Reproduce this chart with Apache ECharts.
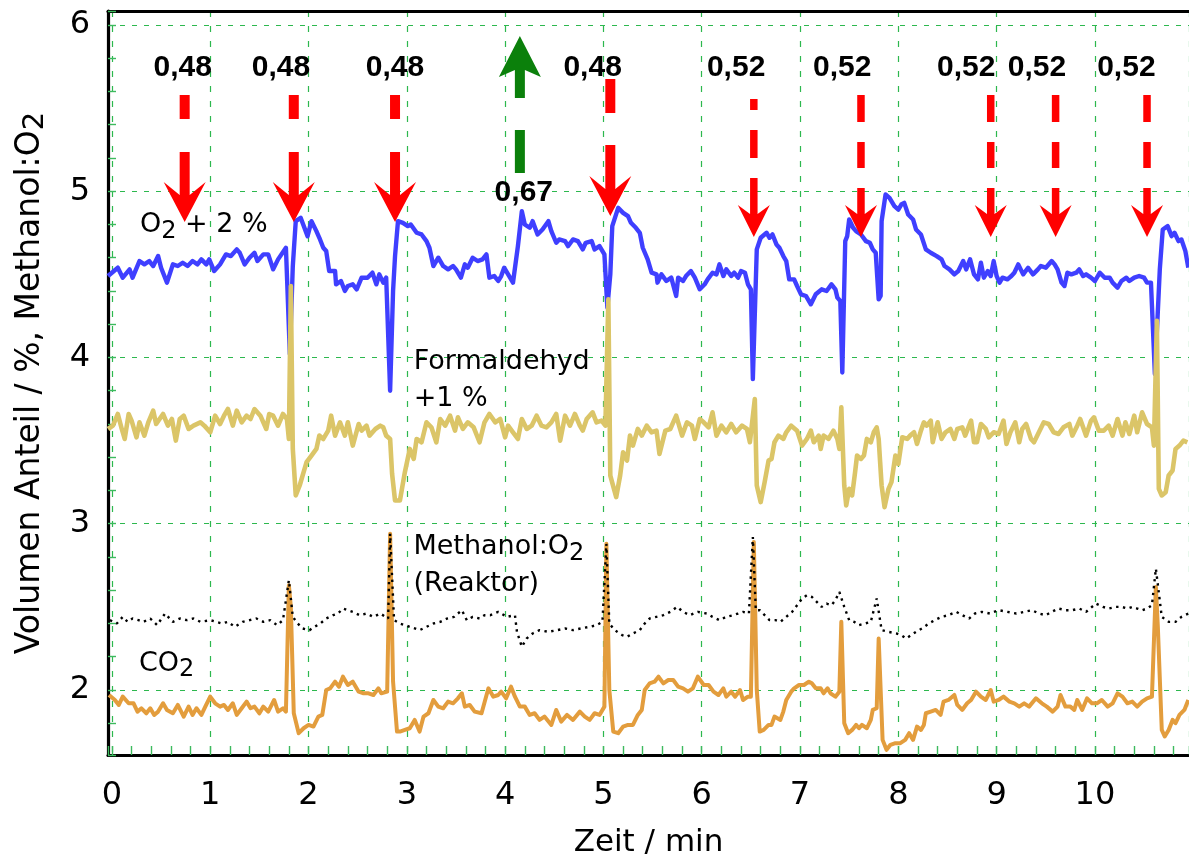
<!DOCTYPE html>
<html>
<head>
<meta charset="utf-8">
<script src="https://cdn.jsdelivr.net/npm/echarts@6/dist/echarts.min.js"></script>
<style>
  html, body { margin: 0; padding: 0; background: #fff; }
  #chart { width: 1189px; height: 856px; }
</style>
</head>
<body>
<div id="chart"></div>
<script>
// Time in min, volume fraction in % (O2 shifted by +2 %, formaldehyde by +1 %)
const o2Trace = [
  [-0.04,4.49],[0.06,4.54],[0.11,4.48],[0.18,4.53],[0.21,4.48],[0.28,4.58],[0.33,4.56],[0.38,4.58],[0.42,4.55],[0.47,4.61],
  [0.50,4.54],[0.56,4.45],[0.62,4.56],[0.67,4.55],[0.72,4.57],[0.77,4.55],[0.82,4.58],[0.87,4.56],[0.91,4.59],[0.96,4.56],
  [0.99,4.59],[1.04,4.52],[1.10,4.56],[1.16,4.62],[1.21,4.61],[1.27,4.65],[1.30,4.63],[1.35,4.56],[1.40,4.60],[1.45,4.63],
  [1.48,4.58],[1.54,4.62],[1.59,4.62],[1.64,4.53],[1.69,4.59],[1.77,4.66],[1.79,4.65],[1.81,4.02],[1.84,4.55],[1.87,4.82],
  [1.92,4.84],[1.99,4.73],[2.03,4.82],[2.08,4.76],[2.11,4.72],[2.15,4.66],[2.18,4.64],[2.21,4.52],[2.27,4.52],[2.28,4.44],
  [2.33,4.46],[2.37,4.40],[2.40,4.43],[2.45,4.44],[2.49,4.41],[2.54,4.48],[2.60,4.48],[2.65,4.51],[2.69,4.44],[2.72,4.50],
  [2.76,4.45],[2.79,4.48],[2.81,4.47],[2.83,3.80],[2.86,4.40],[2.88,4.61],[2.91,4.82],[2.96,4.81],[3.01,4.79],[3.04,4.80],
  [3.10,4.75],[3.15,4.74],[3.20,4.70],[3.23,4.66],[3.27,4.55],[3.32,4.60],[3.37,4.55],[3.42,4.53],[3.47,4.55],[3.50,4.53],
  [3.55,4.48],[3.59,4.56],[3.62,4.54],[3.67,4.60],[3.72,4.58],[3.77,4.59],[3.81,4.62],[3.84,4.48],[3.89,4.49],[3.93,4.46],
  [3.96,4.49],[3.99,4.54],[4.05,4.48],[4.08,4.45],[4.13,4.67],[4.17,4.88],[4.20,4.80],[4.25,4.78],[4.28,4.82],[4.33,4.74],
  [4.38,4.77],[4.44,4.82],[4.47,4.76],[4.52,4.69],[4.55,4.71],[4.61,4.70],[4.64,4.67],[4.69,4.71],[4.74,4.70],[4.79,4.65],
  [4.82,4.69],[4.88,4.70],[4.91,4.65],[4.96,4.67],[5.01,4.62],[5.04,4.30],[5.07,4.50],[5.09,4.79],[5.15,4.90],[5.20,4.87],
  [5.25,4.85],[5.28,4.81],[5.33,4.78],[5.37,4.75],[5.40,4.66],[5.45,4.59],[5.49,4.51],[5.54,4.50],[5.55,4.45],[5.59,4.50],
  [5.64,4.46],[5.69,4.48],[5.74,4.37],[5.76,4.48],[5.81,4.46],[5.84,4.49],[5.89,4.52],[5.93,4.48],[5.98,4.41],[6.03,4.44],
  [6.06,4.47],[6.11,4.51],[6.15,4.50],[6.18,4.56],[6.22,4.49],[6.25,4.53],[6.30,4.49],[6.33,4.51],[6.37,4.48],[6.40,4.52],
  [6.44,4.51],[6.47,4.44],[6.50,4.41],[6.52,3.87],[6.56,4.65],[6.60,4.72],[6.66,4.75],[6.69,4.72],[6.72,4.74],[6.76,4.68],
  [6.79,4.66],[6.83,4.61],[6.86,4.58],[6.89,4.47],[6.94,4.47],[6.97,4.43],[7.01,4.38],[7.06,4.37],[7.11,4.32],[7.16,4.38],
  [7.22,4.41],[7.27,4.40],[7.32,4.44],[7.36,4.41],[7.38,4.36],[7.41,4.34],[7.43,3.91],[7.46,4.70],[7.48,4.73],[7.50,4.83],
  [7.54,4.78],[7.57,4.76],[7.62,4.74],[7.67,4.70],[7.71,4.69],[7.74,4.65],[7.77,4.63],[7.80,4.35],[7.82,4.37],[7.83,4.82],
  [7.87,4.98],[7.91,4.96],[7.96,4.91],[8.00,4.89],[8.03,4.92],[8.06,4.93],[8.10,4.86],[8.15,4.83],[8.18,4.77],[8.23,4.74],
  [8.28,4.65],[8.33,4.63],[8.39,4.61],[8.44,4.59],[8.47,4.55],[8.52,4.53],[8.57,4.50],[8.61,4.52],[8.66,4.58],[8.69,4.53],
  [8.73,4.59],[8.77,4.50],[8.81,4.47],[8.84,4.57],[8.87,4.48],[8.91,4.52],[8.94,4.49],[8.97,4.58],[9.00,4.49],[9.03,4.45],
  [9.06,4.48],[9.11,4.47],[9.15,4.49],[9.18,4.51],[9.22,4.56],[9.27,4.50],[9.32,4.54],[9.37,4.50],[9.42,4.53],[9.45,4.55],
  [9.50,4.54],[9.56,4.58],[9.59,4.56],[9.62,4.53],[9.66,4.45],[9.69,4.43],[9.72,4.51],[9.76,4.50],[9.81,4.51],[9.84,4.53],
  [9.88,4.49],[9.91,4.50],[9.96,4.48],[10.00,4.46],[10.05,4.51],[10.10,4.48],[10.15,4.48],[10.18,4.45],[10.23,4.42],[10.27,4.46],
  [10.32,4.48],[10.35,4.46],[10.40,4.48],[10.45,4.49],[10.50,4.48],[10.53,4.45],[10.57,4.45],[10.61,3.90],[10.66,4.53],[10.69,4.77],
  [10.74,4.79],[10.78,4.73],[10.81,4.75],[10.85,4.70],[10.88,4.71],[10.92,4.64],[10.95,4.54]
];

const formaldehydTrace = [
  [-0.04,3.57],[0.01,3.59],[0.06,3.66],[0.10,3.57],[0.13,3.51],[0.17,3.66],[0.20,3.62],[0.25,3.52],[0.28,3.61],[0.33,3.53],
  [0.37,3.61],[0.42,3.68],[0.45,3.60],[0.52,3.66],[0.57,3.59],[0.61,3.63],[0.65,3.50],[0.69,3.63],[0.73,3.65],[0.78,3.57],
  [0.83,3.59],[0.90,3.61],[0.94,3.59],[1.00,3.55],[1.05,3.65],[1.10,3.60],[1.14,3.65],[1.18,3.69],[1.23,3.59],[1.27,3.68],
  [1.32,3.61],[1.37,3.65],[1.41,3.63],[1.45,3.69],[1.51,3.65],[1.57,3.57],[1.60,3.66],[1.64,3.65],[1.69,3.59],[1.74,3.66],
  [1.78,3.63],[1.80,3.51],[1.82,4.43],[1.84,3.45],[1.87,3.17],[1.91,3.23],[1.95,3.31],[1.98,3.37],[2.03,3.41],[2.08,3.45],
  [2.11,3.53],[2.15,3.51],[2.20,3.56],[2.23,3.65],[2.27,3.53],[2.32,3.61],[2.37,3.53],[2.40,3.61],[2.45,3.47],[2.51,3.60],
  [2.54,3.56],[2.59,3.59],[2.62,3.53],[2.68,3.57],[2.73,3.59],[2.76,3.58],[2.79,3.53],[2.83,3.51],[2.85,3.30],[2.88,3.14],
  [2.93,3.14],[2.98,3.31],[3.03,3.45],[3.07,3.39],[3.10,3.51],[3.15,3.49],[3.20,3.61],[3.25,3.58],[3.30,3.49],[3.34,3.63],
  [3.39,3.59],[3.44,3.65],[3.49,3.56],[3.52,3.64],[3.57,3.57],[3.62,3.61],[3.68,3.58],[3.74,3.49],[3.79,3.61],[3.84,3.66],
  [3.90,3.61],[3.95,3.63],[4.00,3.52],[4.03,3.59],[4.08,3.55],[4.13,3.51],[4.17,3.63],[4.22,3.57],[4.27,3.59],[4.32,3.65],
  [4.37,3.59],[4.42,3.58],[4.47,3.61],[4.52,3.66],[4.56,3.50],[4.61,3.65],[4.66,3.59],[4.71,3.66],[4.76,3.59],[4.79,3.56],
  [4.83,3.63],[4.89,3.67],[4.93,3.61],[4.98,3.62],[5.02,3.59],[5.05,4.35],[5.07,3.29],[5.13,3.16],[5.17,3.29],[5.20,3.43],
  [5.24,3.38],[5.27,3.53],[5.30,3.47],[5.35,3.57],[5.39,3.53],[5.44,3.59],[5.49,3.55],[5.54,3.56],[5.57,3.42],[5.63,3.56],
  [5.68,3.57],[5.74,3.65],[5.80,3.53],[5.85,3.61],[5.90,3.59],[5.93,3.51],[5.98,3.63],[6.02,3.61],[6.07,3.58],[6.11,3.67],
  [6.15,3.53],[6.20,3.59],[6.25,3.55],[6.30,3.60],[6.35,3.55],[6.41,3.59],[6.46,3.57],[6.49,3.49],[6.54,3.75],[6.56,3.23],
  [6.60,3.13],[6.64,3.25],[6.68,3.38],[6.71,3.39],[6.74,3.49],[6.78,3.53],[6.83,3.51],[6.86,3.55],[6.91,3.59],[6.97,3.56],
  [7.02,3.47],[7.07,3.51],[7.11,3.56],[7.14,3.49],[7.19,3.53],[7.21,3.45],[7.24,3.53],[7.29,3.51],[7.34,3.56],[7.38,3.51],
  [7.40,3.45],[7.42,3.70],[7.45,3.23],[7.47,3.11],[7.50,3.21],[7.53,3.17],[7.56,3.31],[7.58,3.41],[7.62,3.39],[7.65,3.41],
  [7.68,3.51],[7.72,3.49],[7.75,3.55],[7.78,3.58],[7.80,3.51],[7.83,3.23],[7.86,3.10],[7.90,3.21],[7.93,3.25],[7.97,3.41],
  [8.00,3.36],[8.04,3.52],[8.09,3.51],[8.12,3.53],[8.16,3.55],[8.19,3.48],[8.23,3.56],[8.26,3.61],[8.29,3.59],[8.33,3.62],
  [8.35,3.49],[8.40,3.61],[8.44,3.51],[8.48,3.55],[8.53,3.57],[8.57,3.51],[8.60,3.57],[8.65,3.58],[8.68,3.53],[8.74,3.62],
  [8.77,3.49],[8.80,3.49],[8.84,3.60],[8.89,3.57],[8.92,3.52],[8.97,3.55],[9.02,3.54],[9.07,3.62],[9.10,3.48],[9.14,3.55],
  [9.19,3.61],[9.23,3.49],[9.26,3.57],[9.30,3.60],[9.35,3.51],[9.38,3.49],[9.43,3.55],[9.48,3.61],[9.53,3.60],[9.58,3.55],
  [9.63,3.54],[9.68,3.58],[9.74,3.60],[9.77,3.53],[9.82,3.59],[9.85,3.63],[9.91,3.53],[9.96,3.62],[9.99,3.64],[10.04,3.56],
  [10.09,3.56],[10.14,3.59],[10.18,3.53],[10.23,3.63],[10.28,3.53],[10.31,3.61],[10.35,3.54],[10.40,3.65],[10.43,3.55],[10.48,3.67],
  [10.53,3.60],[10.58,3.58],[10.60,3.47],[10.63,4.22],[10.65,3.21],[10.68,3.17],[10.72,3.19],[10.75,3.29],[10.79,3.32],[10.82,3.45],
  [10.86,3.47],[10.90,3.50],[10.94,3.49]
];

const co2Trace = [
  [-0.03,1.97],[0.03,1.94],[0.07,1.91],[0.11,1.96],[0.17,1.92],[0.22,1.92],[0.26,1.87],[0.30,1.89],[0.35,1.86],[0.39,1.89],
  [0.43,1.85],[0.47,1.87],[0.52,1.92],[0.56,1.88],[0.62,1.86],[0.67,1.91],[0.73,1.84],[0.78,1.90],[0.82,1.85],[0.86,1.89],
  [0.91,1.85],[0.95,1.90],[1.00,1.96],[1.05,1.92],[1.10,1.90],[1.14,1.91],[1.18,1.88],[1.23,1.92],[1.27,1.85],[1.32,1.89],
  [1.37,1.93],[1.41,1.89],[1.45,1.90],[1.50,1.86],[1.54,1.90],[1.59,1.87],[1.65,1.94],[1.69,1.87],[1.74,1.89],[1.77,1.87],
  [1.80,2.63],[1.82,2.50],[1.85,1.86],[1.90,1.74],[1.95,1.77],[2.00,1.79],[2.05,1.78],[2.10,1.84],[2.14,1.85],[2.18,2.00],
  [2.22,2.01],[2.27,2.05],[2.31,2.02],[2.35,2.08],[2.40,2.03],[2.45,2.05],[2.51,1.99],[2.56,1.98],[2.61,1.98],[2.66,1.97],
  [2.71,2.01],[2.74,1.98],[2.80,1.99],[2.83,2.94],[2.86,2.05],[2.90,1.75],[2.93,1.75],[2.98,1.76],[3.03,1.77],[3.08,1.82],
  [3.13,1.75],[3.17,1.84],[3.22,1.86],[3.27,1.94],[3.32,1.90],[3.37,1.89],[3.42,1.93],[3.47,1.92],[3.52,1.95],[3.56,1.98],
  [3.59,1.90],[3.64,1.91],[3.69,1.87],[3.76,1.86],[3.83,2.01],[3.88,1.96],[3.93,1.97],[3.96,1.99],[4.01,1.95],[4.06,2.02],
  [4.10,1.96],[4.15,1.90],[4.20,1.90],[4.25,1.85],[4.30,1.86],[4.35,1.82],[4.40,1.84],[4.47,1.79],[4.52,1.88],[4.57,1.81],
  [4.63,1.85],[4.69,1.82],[4.76,1.87],[4.81,1.84],[4.86,1.82],[4.91,1.86],[4.96,1.85],[5.01,1.90],[5.03,2.88],[5.06,2.00],
  [5.10,1.75],[5.15,1.74],[5.20,1.78],[5.25,1.79],[5.30,1.79],[5.35,1.85],[5.39,1.88],[5.42,2.00],[5.47,2.04],[5.52,2.05],
  [5.56,2.08],[5.61,2.04],[5.66,2.06],[5.71,2.06],[5.76,2.02],[5.81,2.01],[5.86,1.99],[5.91,2.01],[5.96,2.08],[6.02,2.03],
  [6.07,2.03],[6.12,1.99],[6.17,1.97],[6.22,2.01],[6.25,1.96],[6.30,1.99],[6.34,1.96],[6.39,2.00],[6.42,1.94],[6.47,1.96],
  [6.50,1.96],[6.53,2.89],[6.56,2.00],[6.59,1.75],[6.63,1.76],[6.68,1.79],[6.71,1.79],[6.74,1.84],[6.80,1.82],[6.83,1.87],
  [6.86,1.94],[6.91,1.99],[6.94,2.01],[6.99,2.03],[7.04,2.03],[7.09,2.05],[7.12,2.04],[7.16,2.01],[7.21,2.01],[7.24,1.98],
  [7.28,2.01],[7.31,1.98],[7.36,1.96],[7.40,1.99],[7.42,2.41],[7.45,1.80],[7.49,1.74],[7.53,1.76],[7.57,1.79],[7.60,1.77],
  [7.63,1.79],[7.68,1.77],[7.72,1.82],[7.74,1.88],[7.78,1.89],[7.80,2.31],[7.84,1.70],[7.88,1.64],[7.92,1.67],[7.97,1.68],
  [8.02,1.68],[8.07,1.70],[8.11,1.74],[8.15,1.70],[8.19,1.78],[8.23,1.76],[8.26,1.79],[8.28,1.86],[8.33,1.87],[8.38,1.88],
  [8.43,1.85],[8.46,1.93],[8.51,1.94],[8.57,1.97],[8.60,1.91],[8.65,1.88],[8.70,1.92],[8.74,1.94],[8.79,1.99],[8.84,1.96],
  [8.89,1.94],[8.94,2.00],[8.97,1.93],[9.02,1.94],[9.07,1.96],[9.13,1.93],[9.18,1.92],[9.23,1.90],[9.28,1.92],[9.33,1.90],
  [9.40,1.95],[9.46,1.92],[9.51,1.90],[9.57,1.87],[9.62,1.90],[9.65,1.97],[9.70,1.90],[9.75,1.90],[9.79,1.88],[9.82,1.94],
  [9.87,1.88],[9.92,1.95],[9.97,1.92],[10.02,1.92],[10.07,1.94],[10.13,1.90],[10.18,1.92],[10.23,1.98],[10.28,1.96],[10.33,1.92],
  [10.38,1.93],[10.43,1.90],[10.48,1.93],[10.53,1.95],[10.58,1.96],[10.62,2.62],[10.64,2.38],[10.68,1.76],[10.71,1.72],[10.75,1.76],
  [10.79,1.82],[10.82,1.80],[10.86,1.85],[10.91,1.88],[10.95,1.94]
];

const methanolO2Trace = [
  [-0.02,2.42],[0.05,2.40],[0.11,2.44],[0.16,2.41],[0.21,2.43],[0.27,2.42],[0.32,2.41],[0.39,2.43],[0.46,2.39],[0.54,2.46],
  [0.62,2.41],[0.69,2.43],[0.76,2.42],[0.83,2.43],[0.90,2.41],[1.00,2.42],[1.06,2.41],[1.12,2.40],[1.18,2.41],[1.25,2.38],
  [1.33,2.41],[1.40,2.42],[1.47,2.43],[1.54,2.41],[1.61,2.42],[1.68,2.39],[1.74,2.42],[1.80,2.66],[1.84,2.44],[1.89,2.40],
  [1.94,2.37],[2.01,2.36],[2.06,2.38],[2.12,2.40],[2.18,2.43],[2.25,2.45],[2.30,2.46],[2.35,2.49],[2.40,2.48],[2.45,2.47],
  [2.52,2.45],[2.59,2.46],[2.66,2.44],[2.73,2.46],[2.81,2.43],[2.83,2.94],[2.87,2.42],[2.93,2.40],[2.98,2.39],[3.03,2.38],
  [3.08,2.37],[3.13,2.36],[3.20,2.38],[3.27,2.40],[3.34,2.41],[3.41,2.43],[3.48,2.44],[3.56,2.48],[3.61,2.42],[3.67,2.44],
  [3.74,2.43],[3.79,2.45],[3.85,2.45],[3.93,2.47],[4.02,2.44],[4.10,2.45],[4.12,2.35],[4.17,2.26],[4.22,2.31],[4.28,2.34],
  [4.35,2.36],[4.44,2.35],[4.53,2.36],[4.61,2.37],[4.69,2.36],[4.77,2.37],[4.86,2.38],[4.93,2.39],[4.99,2.41],[5.03,2.88],
  [5.06,2.40],[5.10,2.37],[5.14,2.35],[5.19,2.33],[5.24,2.32],[5.30,2.34],[5.37,2.36],[5.42,2.40],[5.47,2.43],[5.54,2.44],
  [5.61,2.45],[5.68,2.47],[5.75,2.50],[5.81,2.47],[5.88,2.45],[5.96,2.47],[6.05,2.46],[6.11,2.44],[6.18,2.42],[6.25,2.44],
  [6.32,2.45],[6.37,2.46],[6.42,2.47],[6.48,2.46],[6.52,2.92],[6.55,2.48],[6.59,2.48],[6.64,2.45],[6.69,2.42],[6.75,2.42],
  [6.80,2.41],[6.86,2.44],[6.92,2.47],[6.97,2.51],[7.02,2.55],[7.07,2.57],[7.12,2.56],[7.17,2.53],[7.22,2.50],[7.27,2.52],
  [7.32,2.51],[7.36,2.54],[7.40,2.59],[7.45,2.50],[7.50,2.42],[7.55,2.41],[7.60,2.39],[7.66,2.40],[7.72,2.41],[7.78,2.55],
  [7.83,2.36],[7.90,2.35],[7.98,2.34],[8.03,2.33],[8.08,2.31],[8.13,2.33],[8.18,2.35],[8.24,2.37],[8.31,2.40],[8.37,2.42],
  [8.44,2.44],[8.51,2.45],[8.59,2.47],[8.65,2.45],[8.72,2.43],[8.78,2.46],[8.85,2.47],[8.93,2.46],[9.02,2.48],[9.11,2.47],
  [9.20,2.46],[9.28,2.47],[9.36,2.48],[9.43,2.46],[9.50,2.45],[9.56,2.47],[9.63,2.49],[9.70,2.48],[9.77,2.48],[9.84,2.49],
  [9.91,2.47],[10.01,2.52],[10.08,2.50],[10.14,2.49],[10.21,2.50],[10.27,2.50],[10.33,2.49],[10.38,2.50],[10.43,2.49],[10.48,2.48],
  [10.53,2.49],[10.58,2.51],[10.62,2.73],[10.68,2.44],[10.75,2.41],[10.82,2.41],[10.88,2.44],[10.95,2.46]
];

// Dosing steps: [time, shaft start, arrow tip]; style key kept alongside
const ratioArrows = [
  [0.74, 5.579, 4.815], [1.85, 5.579, 4.815], [2.88, 5.579, 4.815],
  [4.15, 5.110, 5.934],
  [5.07, 5.675, 4.851],
  [6.53, 5.555, 4.725], [7.62, 5.579, 4.725], [8.94, 5.579, 4.725],
  [9.60, 5.579, 4.725], [10.53, 5.579, 4.725]
];
const ratioArrowKinds = ['a', 'a', 'a', 'up', 'b', 'c2', 'c', 'c', 'c', 'c'];

// Methanol:O2 ratio set at each step: [time, level, text]
const ratioLabels = [
  [0.72, 5.74, '0,48'], [1.72, 5.74, '0,48'], [2.88, 5.74, '0,48'], [4.89, 5.74, '0,48'],
  [4.19, 4.99, '0,67'],
  [6.35, 5.74, '0,52'], [7.43, 5.74, '0,52'], [8.69, 5.74, '0,52'], [9.41, 5.74, '0,52'], [10.32, 5.74, '0,52']
];

// Trace names: [time, level, text]
const traceNotes = [
  [0.285, 4.797, '{n|O}{s|2}{n| + 2 %}'],
  [3.07, 3.859, '{n|Formaldehyd}\n{n|+1 %}'],
  [3.067, 2.747, '{n|Methanol:O}{s|2}\n{n|(Reaktor)}'],
  [0.275, 2.158, '{n|CO}{s|2}']
];

const X_MIN = -0.04, X_MAX = 10.957, Y_MIN = 1.609, Y_MAX = 6.084;

const ARROW_STYLE = {
  a:  { color: '#ff0000', w: 10,  head: 40, half: 21, notch: 13, dash: [24, 33, 43, 400] },
  b:  { color: '#ff0000', w: 10,  head: 40, half: 21, notch: 13, dash: [34, 32, 44, 400] },
  c:  { color: '#ff0000', w: 7.5, head: 32, half: 16, notch: 9,  dash: [27, 20, 26, 20, 26, 400] },
  c2: { color: '#ff0000', w: 7.5, head: 32, half: 16, notch: 9,  dash: [11, 20, 28, 20, 36, 400] },
  up: { color: '#0b800b', w: 10,  head: 41, half: 21, notch: 7,  dash: [43, 32, 60, 400] }
};

const SANS = '"DejaVu Sans", sans-serif';
const richNote = {
  n: { fontFamily: SANS, fontSize: 27, color: '#000', lineHeight: 37 },
  s: { fontFamily: SANS, fontSize: 24, color: '#000', lineHeight: 21, verticalAlign: 'bottom' }
};

function renderArrow(params, api) {
  const st = ARROW_STYLE[ratioArrowKinds[params.dataIndex]];
  const p0 = api.coord([api.value(0), api.value(1)]);
  const p1 = api.coord([api.value(0), api.value(2)]);
  const x = p0[0];
  const dir = p1[1] > p0[1] ? 1 : -1;
  const tipY = p1[1];
  const baseY = tipY - dir * st.head;
  const notchY = baseY + dir * st.notch;
  return {
    type: 'group',
    children: [
      {
        type: 'line',
        shape: { x1: x, y1: p0[1], x2: x, y2: notchY },
        style: { stroke: st.color, lineWidth: st.w, lineDash: st.dash, lineCap: 'butt' }
      },
      {
        type: 'polygon',
        shape: { points: [[x, tipY], [x + st.half, baseY], [x + st.w / 2, notchY], [x - st.w / 2, notchY], [x - st.half, baseY]] },
        style: { fill: st.color }
      }
    ]
  };
}

function renderRatioLabel(params, api) {
  const p = api.coord([api.value(0), api.value(1)]);
  return {
    type: 'text', x: p[0], y: p[1],
    style: {
      text: ratioLabels[params.dataIndex][2],
      fontFamily: '"Liberation Sans", Arial, sans-serif', fontWeight: 'bold', fontSize: 30,
      fill: '#000', align: 'center', verticalAlign: 'middle'
    }
  };
}

function renderNote(params, api) {
  const p = api.coord([api.value(0), api.value(1)]);
  return {
    type: 'text', x: p[0], y: p[1],
    style: {
      text: traceNotes[params.dataIndex][2],
      rich: richNote, fill: '#000', align: 'left', verticalAlign: 'middle'
    }
  };
}

const GRID_GREEN = '#2db84e';
const TICK_GREEN = '#3dba5e';

const chart = echarts.init(document.getElementById('chart'), null, { renderer: 'canvas' });

chart.setOption({
  animation: false,
  backgroundColor: '#fff',
  grid: { left: 108, right: 0, top: 11, bottom: 101, containLabel: false, outerBoundsMode: 'none' },
  xAxis: [
    {
      type: 'value', min: X_MIN, max: X_MAX, splitNumber: 10,
      name: 'Zeit / min', nameLocation: 'middle', nameGap: 72,
      nameTextStyle: { fontFamily: SANS, fontSize: 31, color: '#000' },
      axisLine: { onZero: false, lineStyle: { color: '#000', width: 3.2 } },
      axisTick: { inside: true, length: 9, lineStyle: { color: TICK_GREEN, width: 1.4 } },
      minorTick: { show: true, splitNumber: 5, length: 9, lineStyle: { color: TICK_GREEN, width: 1.4 } },
      axisLabel: {
        margin: 25, fontFamily: SANS, fontSize: 32, color: '#000',
        showMinLabel: false, showMaxLabel: false,
        formatter: v => (Math.abs(v - Math.round(v)) < 1e-6 ? String(Math.round(v)) : '')
      },
      splitLine: { show: true, lineStyle: { color: GRID_GREEN, width: 1.2, type: [6, 9] } }
    },
    {
      type: 'value', position: 'top', min: X_MIN, max: X_MAX,
      axisLine: { onZero: false, lineStyle: { color: '#000', width: 3.2 } },
      axisTick: { show: false }, axisLabel: { show: false }, splitLine: { show: false }
    }
  ],
  yAxis: {
    type: 'value', min: Y_MIN, max: Y_MAX, splitNumber: 5,
    name: '{n|Volumen Anteil / %, Methanol:O}{s|2}', nameLocation: 'middle', nameGap: 58, nameRotate: 90,
    nameTextStyle: {
      rich: {
        n: { fontFamily: SANS, fontSize: 33, color: '#000', lineHeight: 40 },
        s: { fontFamily: SANS, fontSize: 29, color: '#000', lineHeight: 22, verticalAlign: 'bottom' }
      }
    },
    axisLine: { onZero: false, lineStyle: { color: '#000', width: 3.2 } },
    axisTick: { inside: true, length: 8, lineStyle: { color: TICK_GREEN, width: 1.4 } },
    minorTick: { show: true, splitNumber: 5, length: 8, lineStyle: { color: TICK_GREEN, width: 1.4 } },
    axisLabel: {
      margin: 18, fontFamily: SANS, fontSize: 32, color: '#000',
      showMinLabel: false, showMaxLabel: false,
      formatter: v => (Math.abs(v - Math.round(v)) < 1e-6 ? String(Math.round(v)) : '')
    },
    splitLine: { show: true, lineStyle: { color: GRID_GREEN, width: 1.2, type: [5, 7] } }
  },
  series: [
    {
      name: 'O2 + 2 %', type: 'line', data: o2Trace, showSymbol: false, symbol: 'none',
      lineStyle: { color: '#3f3fff', width: 4.4, join: 'round' }, z: 2
    },
    {
      name: 'Formaldehyd +1 %', type: 'line', data: formaldehydTrace, showSymbol: false, symbol: 'none',
      lineStyle: { color: '#dbc568', width: 4.6, join: 'round' }, z: 3
    },
    {
      name: 'CO2', type: 'line', data: co2Trace, showSymbol: false, symbol: 'none',
      lineStyle: { color: '#e39d3d', width: 4, join: 'round' }, z: 4
    },
    {
      name: 'Methanol:O2 (Reaktor)', type: 'line', data: methanolO2Trace, showSymbol: false, symbol: 'none',
      lineStyle: { color: '#000', width: 2.4, type: [2.4, 4.5] }, z: 5
    },
    {
      type: 'custom', renderItem: renderArrow, data: ratioArrows,
      encode: { x: 0, y: [1, 2] }, z: 10, silent: true
    },
    {
      type: 'custom', renderItem: renderRatioLabel, data: ratioLabels.map(d => [d[0], d[1]]),
      encode: { x: 0, y: 1 }, z: 11, silent: true
    },
    {
      type: 'custom', renderItem: renderNote, data: traceNotes.map(d => [d[0], d[1]]),
      encode: { x: 0, y: 1 }, z: 11, silent: true
    }
  ]
});
</script>
</body>
</html>
